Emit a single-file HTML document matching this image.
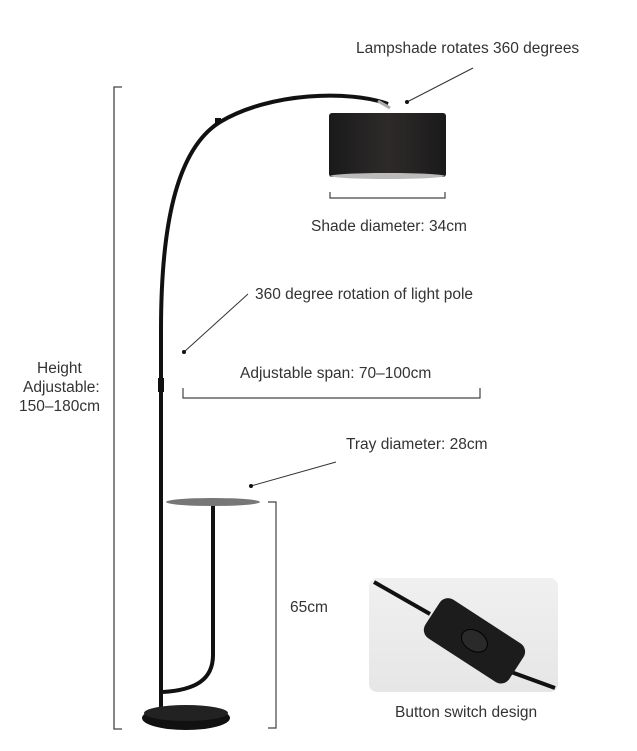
<!DOCTYPE html>
<html><head><style>
body{margin:0;width:637px;height:751px;background:#fff;overflow:hidden;font-family:"Liberation Sans",sans-serif;color:#333;}
.t{position:absolute;font-size:15.5px;white-space:nowrap;color:#333}
</style></head><body>
<svg width="637" height="751" style="position:absolute;left:0;top:0">
<defs><linearGradient id="sh" x1="0" x2="1"><stop offset="0" stop-color="#1a1a1a"/><stop offset=".5" stop-color="#2e2a2a"/><stop offset="1" stop-color="#1a1a1a"/></linearGradient>
<linearGradient id="bg" x1="0" y1="0" x2="0" y2="1"><stop offset="0" stop-color="#f0f0f0"/><stop offset="1" stop-color="#e6e6e6"/></linearGradient></defs>
<path d="M122 87 H114 V729 H122" fill="none" stroke="#444" stroke-width="1.3"/>
<path d="M161 710 V330 C161 230 175 150 220 122 C270 92 350 90 388 104" fill="none" stroke="#111" stroke-width="4"/>
<rect x="158" y="378" width="6" height="14" fill="#111"/>
<rect x="215" y="118" width="6" height="6" fill="#111"/>
<path d="M378 101 L390 108" stroke="#aaa" stroke-width="3"/>
<rect x="329" y="113" width="117" height="64" rx="3" fill="url(#sh)"/>
<ellipse cx="387.5" cy="176" rx="57" ry="3" fill="#bbb"/>
<path d="M330 192 V198 H445 V192" fill="none" stroke="#444" stroke-width="1.2"/>
<line x1="407" y1="102" x2="473" y2="68" stroke="#333" stroke-width="1"/><circle cx="407" cy="102" r="2" fill="#111"/>
<line x1="184" y1="352" x2="248" y2="294" stroke="#333" stroke-width="1"/><circle cx="184" cy="352" r="2" fill="#111"/>
<line x1="251" y1="486" x2="336" y2="462" stroke="#333" stroke-width="1"/><circle cx="251" cy="486" r="2" fill="#111"/>
<path d="M183 388 V398 H480 V388" fill="none" stroke="#444" stroke-width="1.2"/>
<path d="M213 505 V655 C213 680 195 690 163 692" fill="none" stroke="#111" stroke-width="4"/>
<ellipse cx="213" cy="502" rx="47" ry="4" fill="#777"/>
<ellipse cx="186" cy="718" rx="44" ry="12" fill="#111"/>
<ellipse cx="186" cy="713" rx="42" ry="8" fill="#222"/>
<path d="M268 502 H276 V728 H268" fill="none" stroke="#444" stroke-width="1.2"/>
<rect x="369" y="578" width="189" height="114" rx="8" fill="url(#bg)"/>
<path d="M374 582 L430 614 M500 668 L555 688" stroke="#111" stroke-width="4"/>
<g transform="rotate(33 475 640)"><rect x="425" y="618" width="100" height="46" rx="10" fill="#1c1c1c"/><ellipse cx="475" cy="641" rx="14" ry="10" fill="#2a2a2a" stroke="#000"/></g>
</svg>
<div class="t" style="left:356px;top:40px">Lampshade rotates 360 degrees</div>
<div class="t" style="left:311px;top:218px">Shade diameter: 34cm</div>
<div class="t" style="left:255px;top:286px">360 degree rotation of light pole</div>
<div class="t" style="left:240px;top:365px">Adjustable span: 70–100cm</div>
<div class="t" style="left:346px;top:436px">Tray diameter: 28cm</div>
<div class="t" style="left:290px;top:599px">65cm</div>
<div class="t" style="left:37px;top:360px">Height</div>
<div class="t" style="left:23px;top:379px">Adjustable:</div>
<div class="t" style="left:19px;top:398px">150–180cm</div>
<div class="t" style="left:395px;top:704px">Button switch design</div>
</body></html>
